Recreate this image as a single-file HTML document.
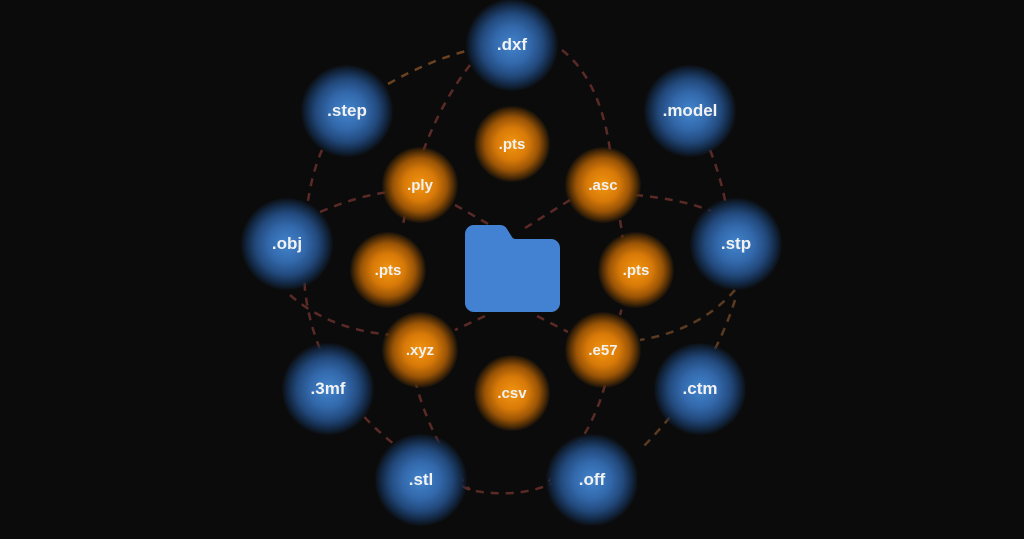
<!DOCTYPE html>
<html><head><style>
body{margin:0;width:1024px;height:539px;background:#0b0b0b;overflow:hidden;position:relative;font-family:"Liberation Sans",sans-serif}
.n{position:absolute;border-radius:50%;display:flex;align-items:center;justify-content:center;color:#f2f2f2;font-weight:bold}
.b{width:92px;height:92px;margin:-46px 0 0 -46px;background:radial-gradient(circle,#4284cc 0%,#3369ac 28%,#22497c 48%,#122640 62%,rgba(11,11,11,0) 72%);font-size:17px}
.o{width:76px;height:76px;margin:-38px 0 0 -38px;background:radial-gradient(circle,#f39610 0%,#d87a08 30%,#9a5406 50%,#4a2a06 63%,rgba(11,11,11,0) 72%);font-size:15px}
svg{position:absolute;left:0;top:0}
</style></head><body>
<svg width="1024" height="539"><g fill="none" stroke="#5a2a26" stroke-width="2.5" stroke-dasharray="8 7">
<path d="M388 84 Q430 60 470 50" stroke="#6a4220"/>
<path d="M470 65 Q420 130 402 230"/>
<path d="M562 50 Q600 80 610 150"/>
<path d="M322 150 Q300 200 305 290 Q320 420 470 490 Q520 500 560 480"/>
<path d="M320 212 Q360 195 390 192"/>
<path d="M455 205 L490 225"/>
<path d="M525 228 L570 200"/>
<path d="M635 195 Q690 200 720 215"/>
<path d="M710 150 Q730 200 732 260"/>
<path d="M735 300 Q710 380 640 450" stroke="#5a3a20"/>
<path d="M290 295 Q330 330 392 335"/>
<path d="M485 316 L455 330"/>
<path d="M537 316 L568 332"/>
<path d="M735 290 Q700 330 640 340" stroke="#5a3a20"/>
<path d="M620 220 Q630 280 620 315"/>
<path d="M415 380 Q430 440 470 490"/>
<path d="M605 385 Q590 440 545 485"/>
</g>
<path d="M465 234 a9 9 0 0 1 9 -9 h26 a8 8 0 0 1 7 4 l5 8 q1 2 4 2 h35 a9 9 0 0 1 9 9 v55 a9 9 0 0 1 -9 9 h-77 a9 9 0 0 1 -9 -9 z" fill="#4382d2"/>
</svg>
<div class="n b" style="left:512px;top:45px">.dxf</div>
<div class="n b" style="left:347px;top:111px">.step</div>
<div class="n b" style="left:690px;top:111px">.model</div>
<div class="n b" style="left:287px;top:244px">.obj</div>
<div class="n b" style="left:736px;top:244px">.stp</div>
<div class="n b" style="left:328px;top:389px">.3mf</div>
<div class="n b" style="left:700px;top:389px">.ctm</div>
<div class="n b" style="left:421px;top:480px">.stl</div>
<div class="n b" style="left:592px;top:480px">.off</div>
<div class="n o" style="left:512px;top:144px">.pts</div>
<div class="n o" style="left:420px;top:185px">.ply</div>
<div class="n o" style="left:603px;top:185px">.asc</div>
<div class="n o" style="left:388px;top:270px">.pts</div>
<div class="n o" style="left:636px;top:270px">.pts</div>
<div class="n o" style="left:420px;top:350px">.xyz</div>
<div class="n o" style="left:603px;top:350px">.e57</div>
<div class="n o" style="left:512px;top:393px">.csv</div>
</body></html>
